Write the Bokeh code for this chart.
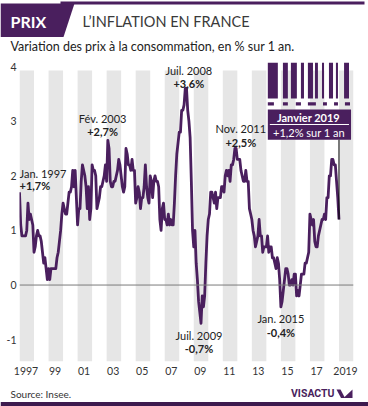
from bokeh.plotting import figure
from bokeh.layouts import column
from bokeh.models import Range1d, FixedTicker, ColumnDataSource, Span
from bokeh.core.properties import value
from bokeh.embed import file_html
from bokeh.resources import INLINE

PURPLE = "#4a1f5e"
DARK = "#333333"
FONT = "Lato"

# ---- data: French CPI, % change over 1 year, monthly Jan 1997 .. Jan 2019
start_year = 1997
y1997 = [1.7, 1.1, 0.9, 0.9, 0.9, 0.9, 1.0, 1.5, 1.2, 1.3, 1.2, 1.1]
y1998 = [0.6, 0.7, 0.9, 1.0, 0.9, 0.9, 0.8, 0.6, 0.4, 0.5, 0.3, 0.1]
y1999 = [0.3, 0.1, 0.3, 0.3, 0.3, 0.3, 0.3, 0.5, 0.6, 0.8, 1.0, 1.3]
y2000 = [1.5, 1.4, 1.3, 1.3, 1.5, 1.7, 1.7, 1.8, 2.1, 1.8, 2.1, 1.6]
y2001 = [1.1, 1.4, 1.4, 1.9, 2.2, 2.1, 2.0, 1.8, 1.4, 1.8, 1.2, 1.4]
y2002 = [2.2, 2.1, 2.1, 2.0, 1.4, 1.5, 1.6, 1.8, 1.8, 1.9, 2.0, 2.2]
y2003 = [1.9, 2.65, 2.5, 1.9, 1.8, 1.8, 1.9, 1.9, 2.0, 2.1, 2.3, 2.2]
y2004 = [2.0, 1.8, 1.7, 1.8, 2.5, 2.4, 2.2, 2.2, 2.1, 2.3, 2.1, 2.1]
y2005 = [1.5, 1.6, 1.8, 1.7, 1.4, 1.6, 1.6, 1.8, 2.2, 1.8, 1.6, 1.5]
y2006 = [2.0, 1.9, 1.6, 1.9, 2.0, 1.9, 1.9, 1.8, 1.2, 1.0, 1.4, 1.5]
y2007 = [1.2, 1.2, 1.1, 1.3, 1.1, 1.2, 1.1, 1.1, 1.5, 2.0, 2.4, 2.6]
y2008 = [2.8, 2.8, 3.2, 3.2, 3.3, 3.6, 3.6, 3.2, 3.0, 2.7, 1.9, 1.0]
y2009 = [0.7, 1.0, 0.4, 0.1, -0.3, -0.5, -0.7, -0.2, -0.4, -0.2, 0.4, 0.9]
y2010 = [1.2, 1.3, 1.7, 1.7, 1.6, 1.5, 1.7, 1.4, 1.6, 1.6, 1.6, 1.8]
y2011 = [1.8, 1.7, 2.0, 2.1, 2.0, 2.1, 1.9, 2.2, 2.2, 2.3, 2.5, 2.5]
y2012 = [2.3, 2.3, 2.3, 2.1, 2.0, 1.9, 1.9, 2.1, 1.9, 1.9, 1.4, 1.3]
y2013 = [1.2, 1.0, 0.9, 0.7, 0.8, 0.9, 1.2, 0.9, 0.9, 0.6, 0.7, 0.7]
y2014 = [0.7, 0.9, 0.6, 0.7, 0.7, 0.5, 0.5, 0.4, 0.3, 0.5, 0.4, 0.1]
y2015 = [-0.4, -0.3, -0.1, 0.1, 0.3, 0.3, 0.2, 0.0, 0.0, 0.1, 0.0, 0.2]
y2016 = [0.2, -0.2, -0.1, -0.2, 0.0, 0.2, 0.2, 0.2, 0.4, 0.4, 0.5, 0.6]
y2017 = [1.3, 1.2, 1.1, 1.2, 0.8, 0.7, 0.7, 0.9, 1.0, 1.1, 1.2, 1.2]
y2018 = [1.3, 1.2, 1.6, 1.6, 2.0, 2.0, 2.3, 2.3, 2.2, 2.2, 1.9, 1.6]
y2019 = [1.2]

yearly = [y1997, y1998, y1999, y2000, y2001, y2002, y2003, y2004, y2005, y2006,
          y2007, y2008, y2009, y2010, y2011, y2012, y2013, y2014, y2015, y2016,
          y2017, y2018, y2019]
cpi = [v for yr in yearly for v in yr]
dates = [start_year + i / 12 for i in range(len(cpi))]

y_ticks = [-1, 0, 1, 2, 3, 4]
x_tick_years = [1997, 1999, 2001, 2003, 2005, 2007, 2009, 2011, 2013, 2015, 2017, 2019]
x_tick_labels = ["1997", "99", "01", "03", "05", "07", "09", "11", "13", "15", "17", "2019"]
band_years = [1997, 1999, 2001, 2003, 2005, 2007, 2009, 2011, 2013, 2015, 2017, 2019]

ann_dates = ["Jan. 1997", "Fév. 2003", "Juil. 2008", "Nov. 2011", "Juil. 2009", "Jan. 2015"]
ann_values = ["+1,7%", "+2,7%", "+3,6%", "+2,5%", "-0,7%", "-0,4%"]
last_label = "Janvier 2019"
last_value = "+1,2% sur 1 an"


def blank(fig):
    fig.outline_line_color = None
    fig.grid.visible = False
    fig.background_fill_color = "white"
    fig.border_fill_color = "white"


def panel(h, xr, yr):
    f = figure(width=368, height=h, x_range=Range1d(*xr), y_range=Range1d(*yr),
               output_backend="svg", toolbar_location=None, min_border=0,
               min_border_left=0, min_border_right=0, min_border_top=0, min_border_bottom=0,
               x_axis_location=None, y_axis_location=None, frame_align=False)
    blank(f)
    return f


# ---------------- header (pixel coordinates, y downwards) ----------------
head = panel(58, (0, 368), (58, 0))
head.quad(left=[60], right=[364], top=[1], bottom=[4], color=PURPLE, line_width=0)
head.patch(x=[0, 74, 63, 0], y=[3, 3, 36.5, 36.5], color=PURPLE, line_width=0)
head.text(x=[10], y=[20.5], text=["PRIX"], text_color="white", text_font=value(FONT),
          text_font_style="bold", text_font_size="16px", text_baseline="middle")
head.text(x=[82], y=[20.5], text=["L\u2019INFLATION EN FRANCE"], text_color="#3a3a3a",
          text_font=value(FONT), text_font_size="14.5px", text_baseline="middle")
head.text(x=[10], y=[46], text=["Variation des prix à la consommation, en % sur 1 an."],
          text_color="#222222", text_font=value(FONT), text_font_size="12.5px",
          text_baseline="middle")

# ---------------- chart ----------------
chart = figure(width=368, height=324, x_range=Range1d(1997, 2020), y_range=Range1d(-1.40, 4.075),
               output_backend="svg", toolbar_location=None, frame_align=False,
               min_border_left=19, min_border_right=15, min_border_top=4, min_border_bottom=21)
blank(chart)

chart.quad(left=band_years, right=[b + 1 for b in band_years], bottom=-1.40, top=3.93,
           color="#e6e6e6", line_width=0)
chart.add_layout(Span(location=0, dimension="width", line_color="#7a7a7a", line_width=1))

chart.line(x=dates, y=cpi, line_color=PURPLE, line_width=2.8, line_join="round")

yax = chart.yaxis[0]
yax.ticker = FixedTicker(ticks=y_ticks)
yax.major_label_overrides = {t: str(t) for t in y_ticks}
xax = chart.xaxis[0]
xax.ticker = FixedTicker(ticks=[y + 0.45 for y in x_tick_years])
xax.major_label_overrides = {y + 0.45: lab for y, lab in zip(x_tick_years, x_tick_labels)}
for ax in (yax, xax):
    ax.axis_line_color = None
    ax.major_tick_line_color = None
    ax.minor_tick_line_color = None
    ax.major_tick_out = 0
    ax.major_tick_in = 0
    ax.minor_tick_out = 0
    ax.minor_tick_in = 0
    ax.major_label_text_font = FONT
    ax.major_label_text_font_size = "10.5px"
    ax.major_label_text_color = DARK
yax.major_label_standoff = 3
xax.major_label_standoff = 5

ann_x = [1997.0, 2002.72, 2008.66, 2012.24, 2009.36, 2015.0]
ann_y_date = [2.04, 3.05, 3.93, 2.87, -0.92, -0.61]
ann_y_val = [1.82, 2.81, 3.69, 2.61, -1.16, -0.87]
ann_align = ["left", "center", "center", "center", "center", "center"]
src = ColumnDataSource(dict(x=ann_x, yd=ann_y_date, yv=ann_y_val, d=ann_dates, v=ann_values, a=ann_align))
chart.text(x="x", y="yd", text="d", source=src, text_align="a", text_baseline="middle",
           text_font=value(FONT), text_font_size="11px", text_color="#222222")
chart.text(x="x", y="yv", text="v", source=src, text_align="a", text_baseline="middle",
           text_font=value(FONT), text_font_size="11px", text_font_style="bold",
           text_color="#222222")

bar_l = [2014.10, 2015.14, 2015.69, 2016.38, 2016.86, 2017.35, 2017.83, 2018.31, 2018.79, 2019.35]
bar_r = [2014.79, 2015.48, 2016.10, 2016.59, 2017.21, 2017.55, 2017.97, 2018.59, 2018.93, 2019.69]
chart.quad(left=bar_l, right=bar_r, bottom=3.416, top=4.075, color=PURPLE, line_width=0)
dash_l = [2014.10, 2015.14, 2016.03, 2016.86, 2017.90, 2018.66, 2019.41]
dash_r = [2014.52, 2015.48, 2016.38, 2017.41, 2018.17, 2018.93, 2019.76]
chart.quad(left=dash_l, right=dash_r, bottom=3.288, top=3.348, color=PURPLE, line_width=0)
chart.quad(left=[2014.10], right=[2019.83], bottom=[2.661], top=[3.214], color=PURPLE, line_width=0)
chart.segment(x0=[2014.24], x1=[2019.69], y0=[2.94], y1=[2.94], line_color="white", line_width=1)
chart.text(x=[2016.9], y=[3.07], text=[last_label], text_align="center", text_baseline="middle",
           text_font=value(FONT), text_font_size="11px", text_font_style="bold", text_color="white")
chart.text(x=[2016.93], y=[2.795], text=[last_value], text_align="center", text_baseline="middle",
           text_font=value(FONT), text_font_size="11px", text_color="white")
chart.segment(x0=[dates[-1]], x1=[dates[-1]], y0=[2.661], y1=[cpi[-1]], line_color="black", line_width=1)

# ---------------- footer ----------------
foot = panel(24, (0, 368), (406, 382))
foot.text(x=[10], y=[393.5], text=["Source: Insee."], text_color=DARK, text_font=value(FONT),
          text_font_size="10px", text_baseline="middle")
foot.text(x=[334], y=[393], text=["VISACTU"], text_color=PURPLE, text_font=value("Roboto"),
          text_font_style="bold", text_font_size="10.5px", text_baseline="middle", text_align="right")
foot.patch(x=[336, 340, 344.5, 340.5], y=[389, 389, 397.5, 397.5], color=PURPLE, line_width=0)
foot.patch(x=[343, 352, 352], y=[397.5, 389, 397.5], color=PURPLE, line_width=0)
foot.quad(left=[0], right=[368], top=[401.5], bottom=[406], color="#3d1a4e", line_width=0)

layout = column(head, chart, foot, spacing=0)
open("out.html", "w").write(file_html(layout, INLINE))
